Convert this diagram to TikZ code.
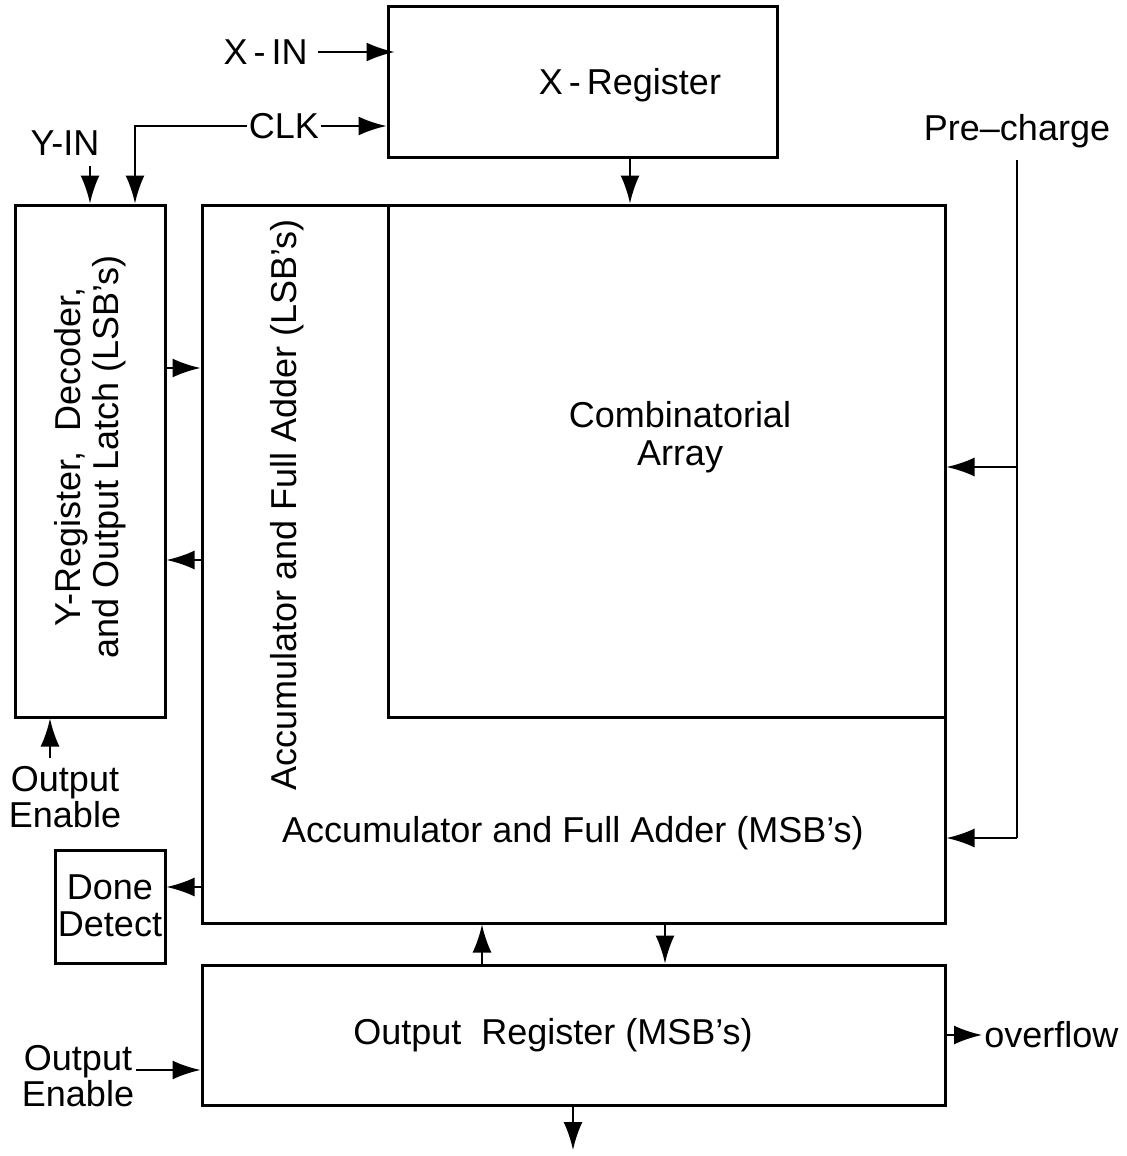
\documentclass[tikz,border=0pt]{standalone}
\usepackage{fontspec}
\setmainfont{Liberation Sans}
\usetikzlibrary{arrows.meta,fit,calc}
\begin{document}
\begin{tikzpicture}[x=0.5pt,y=-0.5pt,
  box/.style={draw,line width=1.5pt,inner sep=0pt},
  lbl/.style={font=\fontsize{18}{19}\selectfont,inner sep=1pt,align=center},
  arr/.style={line width=1.1pt,-{Latex[length=14pt,width=9.5pt]}},
  ln/.style={line width=1.1pt}]
\useasboundingbox (0,0) rectangle (1127,1156);
% boxes
\node[box,fit={(388,7)(777,157)}] (xreg) {};
\node[box,fit={(15,205)(165,717)}] (yreg) {};
\node[box,fit={(202,205)(945,923)}] (acc) {};
\node[box,fit={(388,205)(945,717)}] (comb) {};
\node[box,fit={(55,850)(165,963)}] (dd) {};
\node[box,fit={(202,965)(945,1105)}] (outreg) {};
% box texts
\node[lbl] (xregt) at (630,85) {X\,-\,Register};
\node[lbl,rotate=90] (yregt) at (90,457) {Y-Register,\ \ Decoder,\\and Output Latch (LSB's)};
\node[lbl,rotate=90] (lsbt) at (287,505) {Accumulator and Full Adder (LSB's)};
\node[lbl] (msbt) at (573,833) {Accumulator and Full Adder (MSB's)};
\node[lbl] (combt) at (680,437) {Combinatorial\\Array};
\node[lbl,font=\fontsize{18}{18.5}\selectfont] (ddt) at (110,906) {Done\\Detect};
\node[lbl] (outt) at (553,1035) {Output\ \ Register\ (MSB's)};
% free labels
\node[lbl,anchor=east] (xin) at (310,52) {X\,-\,IN};
\node[lbl] (clk) at (284,126) {CLK};
\node[lbl] (yin) at (65,143) {Y-IN};
\node[lbl] (pc) at (1017,131) {Pre--charge};
\node[lbl,font=\fontsize{18}{16.5}\selectfont] (oe1) at (65,797) {Output\\Enable};
\node[lbl,font=\fontsize{18}{15}\selectfont] (oe2) at (78,1076) {Output\\Enable};
\node[lbl,anchor=west] (ov) at (982,1035) {overflow};
\coordinate (outend) at (573,1150);
\coordinate (oein) at (136,1070);
% connectors
\draw[arr] ([xshift=4pt]xin.east) -- ([xshift=4pt]xin.east -| xreg.west);
\draw[arr] (clk.east) -- (clk.east -| xreg.west);
\draw[arr] (clk.west) -| ($(yreg.north)+(45,0)$);
\draw[arr] ([yshift=-4pt]yin.south -| yreg.north) -- (yreg.north);
\draw[arr] (xreg.south -| xregt) -- (xregt |- comb.north);
\draw[arr] ($(yreg.east)+(0,-93)$) -- ($(acc.west)+(0,-196)$);
\draw[arr] ($(acc.west)+(0,-4)$) -- ($(yreg.east)+(0,99)$);
\draw[arr] ([xshift=-7.5pt,yshift=3pt]oe1.north) -- ([xshift=-7.5pt]oe1.north |- yreg.south);
\draw[arr] ($(acc.west)+(0,323)$) -- ($(dd.east)+(0,-19.5)$);
\coordinate (pcm) at (1017,467);
\coordinate (pcb) at (1017,838);
\draw[ln] ([yshift=-5pt]pc.south) -- (pcb);
\draw[arr] (pcm) -- (pcm -| comb.east);
\draw[arr] (pcb) -- (pcb -| acc.east);
\draw[arr] (outreg.north -| 482,0) -- (acc.south -| 482,0);
\draw[arr] (acc.south -| 665,0) -- (outreg.north -| 665,0);
\draw[arr] (outreg.south -| outend) -- (outend);
\draw[arr] (oein) -- (oein -| outreg.west);
\draw[arr] (outreg.east) -- (ov.west);
\end{tikzpicture}
\end{document}
